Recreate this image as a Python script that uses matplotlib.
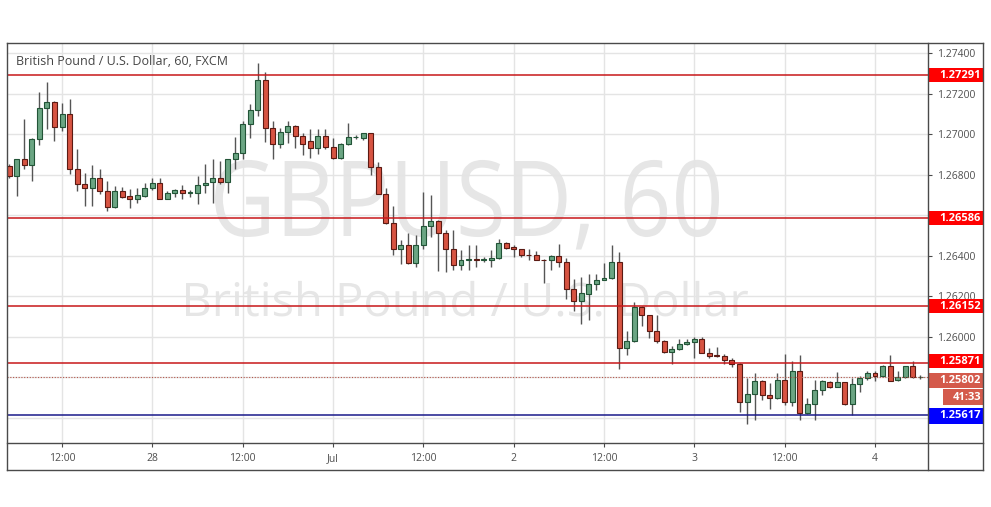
import numpy as np
import matplotlib
matplotlib.use('Agg')
import matplotlib.pyplot as plt
import matplotlib.transforms as mtransforms
from matplotlib.lines import Line2D
from matplotlib.patches import Rectangle, PathPatch
from matplotlib.textpath import TextPath
from matplotlib.font_manager import FontProperties

plt.rcParams['font.family'] = ['Open Sans', 'DejaVu Sans']

# GBP/USD hourly candles, 27 Jun 05:00 -> 4 Jul 06:00 (weekend gap removed)
opens = [1.26843, 1.26793, 1.26875, 1.26847, 1.26974, 1.27129, 1.27159, 1.27034, 1.27100, 1.26829,
         1.26756, 1.26736, 1.26785, 1.26720, 1.26642, 1.26720, 1.26695, 1.26682, 1.26695, 1.26736,
         1.26760, 1.26682, 1.26711, 1.26724, 1.26711, 1.26711, 1.26747, 1.26764, 1.26785, 1.26764,
         1.26875, 1.26908, 1.27052, 1.27118, 1.27269, 1.27031, 1.26952, 1.27011, 1.27039, 1.26990,
         1.26965, 1.26933, 1.26990, 1.26934, 1.26880, 1.26951, 1.26984, 1.26979, 1.27003, 1.26839,
         1.26707, 1.26564, 1.26435, 1.26452, 1.26365, 1.26452, 1.26546, 1.26572, 1.26513, 1.26435,
         1.26356, 1.26381, 1.26383, 1.26381, 1.26381, 1.26390, 1.26465, 1.26444, 1.26431, 1.26404,
         1.26404, 1.26381, 1.26381, 1.26398, 1.26370, 1.26237, 1.26176, 1.26212, 1.26262, 1.26279,
         1.26292, 1.26370, 1.25944, 1.25980, 1.26149, 1.26108, 1.26030, 1.25980, 1.25925, 1.25939,
         1.25963, 1.25975, 1.25992, 1.25919, 1.25909, 1.25905, 1.25884, 1.25867, 1.25678, 1.25718,
         1.25784, 1.25714, 1.25698, 1.25789, 1.25681, 1.25831, 1.25623, 1.25668, 1.25739, 1.25777,
         1.25754, 1.25776, 1.25668, 1.25768, 1.25797, 1.25822, 1.25806, 1.25859, 1.25789, 1.25801,
         1.25856, 1.25801]
highs = [1.26851, 1.26879, 1.27072, 1.26982, 1.27207, 1.27256, 1.27162, 1.27151, 1.27175, 1.26928,
         1.26810, 1.26846, 1.26830, 1.26769, 1.26744, 1.26739, 1.26728, 1.26736, 1.26760, 1.26785,
         1.26785, 1.26719, 1.26731, 1.26747, 1.26724, 1.26793, 1.26851, 1.26875, 1.26867, 1.26878,
         1.26987, 1.27064, 1.27146, 1.27348, 1.27305, 1.27064, 1.27031, 1.27064, 1.27043, 1.27006,
         1.27023, 1.27023, 1.27026, 1.26979, 1.26954, 1.27056, 1.26995, 1.27007, 1.27007, 1.26863,
         1.26732, 1.26644, 1.26477, 1.26513, 1.26501, 1.26715, 1.26699, 1.26575, 1.26526, 1.26526,
         1.26427, 1.26452, 1.26452, 1.26394, 1.26427, 1.26485, 1.26468, 1.26452, 1.26435, 1.26431,
         1.26422, 1.26386, 1.26402, 1.26457, 1.26387, 1.26287, 1.26295, 1.26312, 1.26312, 1.26365,
         1.26453, 1.26420, 1.26030, 1.26171, 1.26152, 1.26110, 1.26108, 1.25983, 1.25955, 1.25988,
         1.25988, 1.26000, 1.26000, 1.25944, 1.25950, 1.25914, 1.25897, 1.25869, 1.25797, 1.25822,
         1.25789, 1.25773, 1.25822, 1.25914, 1.25880, 1.25910, 1.25698, 1.25789, 1.25789, 1.25781,
         1.25827, 1.25779, 1.25797, 1.25806, 1.25830, 1.25830, 1.25864, 1.25910, 1.25834, 1.25856,
         1.25880, 1.25811]
lows = [1.26785, 1.26695, 1.26826, 1.26769, 1.26944, 1.27023, 1.26965, 1.27015, 1.26801, 1.26720,
        1.26646, 1.26646, 1.26703, 1.26621, 1.26637, 1.26687, 1.26637, 1.26662, 1.26692, 1.26724,
        1.26679, 1.26679, 1.26692, 1.26679, 1.26692, 1.26654, 1.26711, 1.26659, 1.26752, 1.26711,
        1.26826, 1.26879, 1.26982, 1.27089, 1.26961, 1.26879, 1.26933, 1.26957, 1.26933, 1.26895,
        1.26883, 1.26903, 1.26925, 1.26878, 1.26877, 1.26946, 1.26974, 1.26970, 1.26798, 1.26707,
        1.26559, 1.26402, 1.26358, 1.26358, 1.26345, 1.26435, 1.26493, 1.26325, 1.26320, 1.26328,
        1.26328, 1.26328, 1.26345, 1.26371, 1.26345, 1.26386, 1.26435, 1.26394, 1.26394, 1.26381,
        1.26378, 1.26266, 1.26328, 1.26345, 1.26188, 1.26129, 1.26063, 1.26083, 1.26229, 1.26279,
        1.26287, 1.25844, 1.25910, 1.25977, 1.26055, 1.25993, 1.25972, 1.25922, 1.25867, 1.25934,
        1.25960, 1.25897, 1.25919, 1.25894, 1.25900, 1.25867, 1.25851, 1.25631, 1.25573, 1.25590,
        1.25690, 1.25645, 1.25694, 1.25665, 1.25661, 1.25590, 1.25618, 1.25590, 1.25714, 1.25748,
        1.25751, 1.25665, 1.25615, 1.25728, 1.25789, 1.25784, 1.25802, 1.25781, 1.25784, 1.25799,
        1.25799, 1.25794]
closes = [1.26793, 1.26875, 1.26847, 1.26974, 1.27129, 1.27159, 1.27034, 1.27100, 1.26829, 1.26756,
          1.26736, 1.26785, 1.26720, 1.26642, 1.26720, 1.26692, 1.26682, 1.26698, 1.26736, 1.26760,
          1.26682, 1.26711, 1.26724, 1.26711, 1.26713, 1.26747, 1.26760, 1.26785, 1.26764, 1.26875,
          1.26908, 1.27052, 1.27118, 1.27269, 1.27031, 1.26952, 1.27011, 1.27039, 1.26990, 1.26949,
          1.26933, 1.26990, 1.26938, 1.26880, 1.26951, 1.26984, 1.26986, 1.27003, 1.26839, 1.26707,
          1.26564, 1.26435, 1.26452, 1.26365, 1.26452, 1.26546, 1.26572, 1.26513, 1.26435, 1.26356,
          1.26381, 1.26383, 1.26381, 1.26384, 1.26390, 1.26465, 1.26439, 1.26431, 1.26402, 1.26402,
          1.26381, 1.26379, 1.26398, 1.26370, 1.26237, 1.26176, 1.26216, 1.26262, 1.26282, 1.26292,
          1.26370, 1.25944, 1.25980, 1.26149, 1.26108, 1.26030, 1.25980, 1.25925, 1.25942, 1.25963,
          1.25975, 1.25992, 1.25922, 1.25907, 1.25907, 1.25884, 1.25867, 1.25678, 1.25720, 1.25784,
          1.25714, 1.25698, 1.25789, 1.25681, 1.25831, 1.25623, 1.25668, 1.25739, 1.25781, 1.25751,
          1.25776, 1.25668, 1.25768, 1.25797, 1.25822, 1.25806, 1.25859, 1.25784, 1.25801, 1.25856,
          1.25801, 1.25802]

time_labels = ['12:00', '28', '12:00', 'Jul', '12:00', '2', '12:00', '3', '12:00', '4']
first_label_bar = 7      # 27 Jun 12:00
bars_per_label = 12

price_ticks = [1.256, 1.258, 1.260, 1.262, 1.264, 1.266, 1.268, 1.270, 1.272, 1.274]
hidden_ticks = [1.256, 1.258, 1.266]   # fully covered by the price tags

resistance_levels = [1.27291, 1.26586, 1.26152, 1.25871]
support_level = 1.25617
last_price = 1.25802
countdown = '41:33'

title = 'British Pound / U.S. Dollar, 60, FXCM'
watermark_big = 'GBPUSD, 60'
watermark_small = 'British Pound / U.S. Dollar'

# ---- layout (pixels) ----
W, H = 991, 507
PL, PR, PT, PB = 7, 928, 43, 443   # plot area
AR, AB = 983, 470                  # outer frame
FRAME = '#4a4a4a'
TXT = '#4f4f4f'

fig = plt.figure(figsize=(W / 100, H / 100), dpi=100)
fig.patch.set_facecolor('white')
ax = fig.add_axes([PL / W, 1 - PB / H, (PR - PL) / W, (PB - PT) / H])

ymin, ymax = 1.25477, 1.27449
ax.set_xlim(-0.31, 122.04)
ax.set_ylim(ymin, ymax)

o = np.array(opens)
hi = np.array(highs)
lo = np.array(lows)
c = np.array(closes)
x = np.arange(len(o))
up = c >= o
bottom = np.minimum(o, c)
height = np.maximum(np.abs(c - o), 0.00002)

# candles
ax.vlines(x, lo, hi, color='#555555', lw=1, zorder=3)
ax.bar(x[up], height[up], bottom=bottom[up], width=0.66, color='#6ba583',
       edgecolor='#225437', lw=0.8, zorder=4)
ax.bar(x[~up], height[~up], bottom=bottom[~up], width=0.66, color='#d75442',
       edgecolor='#5b1a13', lw=0.8, zorder=4)

# levels
for lvl in resistance_levels:
    ax.axhline(lvl, color='#c8171a', lw=1.1, zorder=5)
ax.axhline(support_level, color='#1a1a8a', lw=1.1, zorder=5)
ax.axhline(last_price, color='#b5574b', lw=0.8, ls=(0, (1, 1.5)), zorder=5)

# axes / grid
ax.set_yticks(price_ticks)
ax.set_yticklabels(['' if v in hidden_ticks else f'{v:.5f}' for v in price_ticks])
ax.yaxis.tick_right()
tick_pos = [first_label_bar + i * bars_per_label for i in range(len(time_labels))]
ax.set_xticks(tick_pos)
ax.set_xticklabels(time_labels)
ax.tick_params(axis='y', length=3, width=0.8, color=FRAME, pad=3.6,
               labelsize=7.5, labelcolor=TXT)
ax.tick_params(axis='x', length=3, width=0.8, color=FRAME, pad=4.5,
               labelsize=7.5, labelcolor=TXT)
ax.grid(color='#e4e4e4', lw=1)
ax.set_axisbelow(True)
for s in ax.spines.values():
    s.set_visible(False)


def px_line(x0, y0, x1, y1):
    fig.add_artist(Line2D([x0 / W, x1 / W], [1 - y0 / H, 1 - y1 / H],
                          transform=fig.transFigure, color=FRAME, lw=1, zorder=20))


px_line(PL, PT, AR, PT)
px_line(PL, PB, AR, PB)
px_line(PL, AB, AR, AB)
px_line(PL, PT, PL, AB)
px_line(PR, PT, PR, AB)
px_line(AR, PT, AR, AB)

# price tags on the right axis
blend = mtransforms.blended_transform_factory(fig.transFigure, ax.transData)
ppx = (ymax - ymin) / (PB - PT)   # price per pixel


def price_tag(price, text, color, x0=PR, shift_px=0, h_px=14):
    yc = price - shift_px * ppx
    fig.add_artist(Rectangle((x0 / W, yc - h_px * ppx / 2), (AR - x0) / W, h_px * ppx,
                             transform=blend, color=color, lw=0, zorder=10))
    fig.text((AR - 2) / W, yc, text, transform=blend, ha='right', va='center',
             color='white', fontsize=8, fontweight='bold', zorder=11)


for lvl in resistance_levels:
    price_tag(lvl, f'{lvl:.5f}', '#ff0000', shift_px=-2 if lvl == resistance_levels[-1] else 0)
price_tag(last_price, f'{last_price:.5f}', '#d45a4b', shift_px=3.5, h_px=15)
price_tag(last_price, countdown, '#d45a4b', x0=943, shift_px=20, h_px=16)
price_tag(support_level, f'{support_level:.5f}', '#0000ff', shift_px=1, h_px=16)


# watermark drawn as scaled text paths to fit the reference box
def watermark(text, x0, x1, cap_top, base, color='#e6e6e6'):
    fp = FontProperties(family='Open Sans')
    path = TextPath((0, 0), text, size=100, prop=fp)
    cap = TextPath((0, 0), 'H', size=100, prop=fp).get_extents().height
    ext = path.get_extents()
    sx = (x1 - x0) / ext.width
    sy = (base - cap_top) / cap
    tr = (mtransforms.Affine2D().translate(-ext.x0, 0).scale(sx, sy)
          .translate(x0, H - base).scale(1 / W, 1 / H) + fig.transFigure)
    ax.add_artist(PathPatch(path, transform=tr, color=color, lw=0,
                            zorder=0.3, clip_on=False))


watermark(watermark_big, 215, 719, 161, 236)
watermark(watermark_small, 186, 748, 283, 316)

# title fitted to reference width
t = fig.text(16 / W, 1 - 65 / H, title, ha='left', va='baseline', fontsize=9,
             color='#454545', zorder=12)
fig.canvas.draw()
w = t.get_window_extent().width
t.set_fontsize(9 * 213 / w)

fig.savefig('out.png', dpi=100, facecolor='white')
